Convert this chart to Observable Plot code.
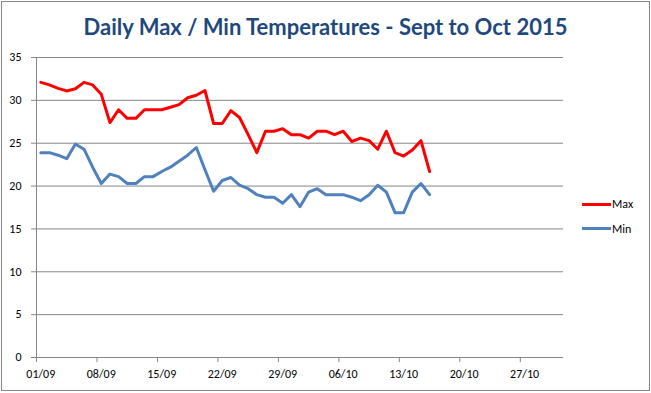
<!DOCTYPE html>
<html>
<head>
<meta charset="utf-8">
<script src="https://cdn.jsdelivr.net/npm/d3@7"></script>
<script src="https://cdn.jsdelivr.net/npm/@observablehq/plot@0.6"></script>
<style>
  html, body { margin: 0; padding: 0; background: #fff; }
  #wrap { position: relative; width: 651px; height: 393px; overflow: hidden; font-family: Carlito, Calibri, "Liberation Sans", sans-serif; }
  #title { height: 44px; line-height: 54px; text-align: center; font-family: Lato, Carlito, Calibri, sans-serif; font-weight: bold; font-size: 22px; color: #1F497D; white-space: nowrap; }
  #border { position: absolute; left: 1px; top: 1px; width: 649px; height: 390px; box-sizing: border-box; border: 1px solid #868686; pointer-events: none; }
  .leg { position: absolute; left: 582px; width: 29px; height: 3px; }
  .legt { position: absolute; left: 612px; font-size: 12px; line-height: 14px; color: #000; }
  #chart svg { display: block; }
</style>
</head>
<body>
<div id="wrap">
  <div id="title">Daily Max / Min Temperatures - Sept to Oct 2015</div>
  <div id="chart"></div>
  <div class="leg" style="top:202.5px;background:#FF0000"></div>
  <div class="legt" style="top:197px">Max</div>
  <div class="leg" style="top:227px;background:#4F81BD"></div>
  <div class="legt" style="top:221.5px">Min</div>
  <div id="border"></div>
</div>
<script>
// Data, daily from 01/09/2015
const startDate = "2015-09-01";
const maxTemps = [32.1,31.8,31.4,31.1,31.35,32.1,31.8,30.7,27.4,28.9,27.9,27.9,
                  28.9,28.9,28.9,29.2,29.5,30.3,30.6,31.15,27.3,27.3,28.8,
                  28.0,26.0,23.9,26.4,26.4,26.7,26.0,26.0,25.6,26.4,26.4,
                  26.0,26.4,25.2,25.6,25.3,24.3,26.4,23.9,23.5,24.2,25.3,21.7];
const minTemps = [23.9,23.9,23.6,23.2,24.9,24.3,22.2,20.3,21.4,21.1,20.3,20.3,
                  21.1,21.1,21.7,22.2,22.9,23.6,24.5,21.9,19.4,20.65,21.0,
                  20.1,19.7,19.0,18.7,18.7,18.0,19.0,17.6,19.3,19.7,19.0,
                  19.0,19.0,18.7,18.3,19.0,20.1,19.3,16.9,16.9,19.3,20.3,19.0];
const xTickLabels = ["01/09","08/09","15/09","22/09","29/09","06/10","13/10","20/10","27/10"];
const xEndLabel = "01/11";
const yTicks = [0,5,10,15,20,25,30,35];
const seriesNames = ["Max","Min"];
const seriesColors = ["#FF0000","#4F81BD"];

const parseDM = d3.utcParse("%d/%m/%Y");
const fmtDM = d3.utcFormat("%d/%m");
const start = d3.utcParse("%Y-%m-%d")(startDate);
const tickDates = xTickLabels.map(s => parseDM(s + "/2015"));
const endDate = parseDM(xEndLabel + "/2015");

// Excel date axis plots each day in the middle of its interval
const rows = [];
[maxTemps, minTemps].forEach((arr, k) => {
  arr.forEach((v, i) => {
    rows.push({date: d3.utcHour.offset(d3.utcDay.offset(start, i), 12), value: v, series: seriesNames[k]});
  });
});

const gray = "#868686";
const chart = Plot.plot({
  width: 651,
  height: 349,
  marginTop: 13,
  marginBottom: 36,
  marginLeft: 36,
  marginRight: 88,
  style: {fontFamily: "Carlito, Calibri, 'Liberation Sans', sans-serif", fontSize: "12px", color: "#000", background: "transparent"},
  x: {type: "utc", domain: [start, endDate]},
  y: {domain: [0, 35]},
  color: {domain: seriesNames, range: seriesColors},
  marks: [
    Plot.gridY(yTicks.filter(d => d > 0), {stroke: gray, strokeOpacity: 1, strokeWidth: 1}),
    Plot.ruleY([0], {stroke: gray, strokeWidth: 1}),
    Plot.ruleX([start], {y1: 0, y2: 35, stroke: gray, strokeWidth: 1}),
    Plot.axisY(yTicks, {tickSize: 5, tickPadding: 10, stroke: gray, fill: "#000", label: null}),
    Plot.axisX(tickDates, {tickSize: 5, stroke: gray, tickFormat: () => "", label: null}),
    Plot.axisX(tickDates, {tickSize: 0, tickPadding: 12, dx: 4.3, fill: "#000", tickFormat: fmtDM, label: null}),
    Plot.line(rows, {x: "date", y: "value", z: "series", stroke: "series", strokeWidth: 3, strokeLinejoin: "round", strokeLinecap: "round"})
  ]
});
document.getElementById("chart").appendChild(chart);
</script>
</body>
</html>
